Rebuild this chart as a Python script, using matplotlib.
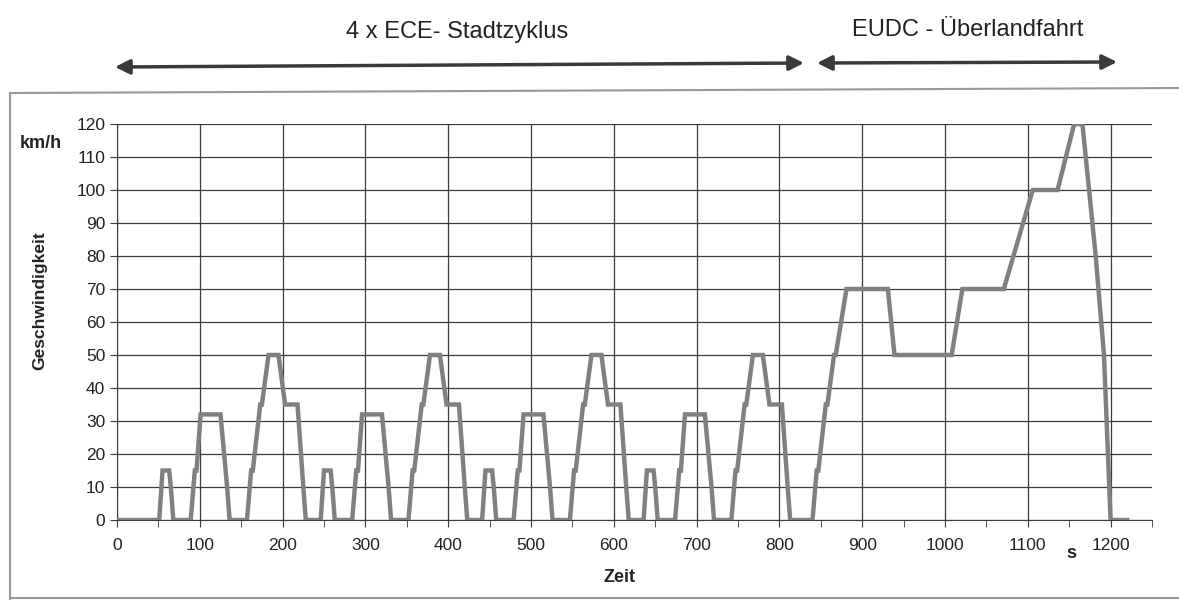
import matplotlib
matplotlib.use("Agg")
import matplotlib.pyplot as plt
from matplotlib.ticker import MultipleLocator
from matplotlib.lines import Line2D

plt.rcParams['font.family'] = ['Liberation Sans', 'DejaVu Sans']

# NEDC speed profile breakpoints (time in s, speed in km/h)
time_s = [0,
          51, 55, 63, 65, 68, 89, 94, 96, 101, 125, 133, 136, 157, 162, 164, 173, 175, 183, 195, 203, 218, 225, 228, 235,
          246, 250, 258, 260, 263, 284, 289, 291, 296, 320, 328, 331, 352, 357, 359, 368, 370, 378, 390, 398, 413, 420, 423, 430,
          441, 445, 453, 455, 458, 479, 484, 486, 491, 515, 523, 526, 547, 552, 554, 563, 565, 573, 585, 593, 608, 615, 618, 625,
          636, 640, 648, 650, 653, 674, 679, 681, 686, 710, 718, 721, 742, 747, 749, 758, 760, 768, 780, 788, 803, 810, 813, 820,
          840, 845, 847, 856, 858, 866, 868, 881, 931, 939, 1008, 1021, 1071, 1106, 1136, 1156, 1166, 1182, 1192, 1200, 1220]
speed_kmh = [0,
             0, 15, 15, 10, 0, 0, 15, 15, 32, 32, 10, 0, 0, 15, 15, 35, 35, 50, 50, 35, 35, 10, 0, 0,
             0, 15, 15, 10, 0, 0, 15, 15, 32, 32, 10, 0, 0, 15, 15, 35, 35, 50, 50, 35, 35, 10, 0, 0,
             0, 15, 15, 10, 0, 0, 15, 15, 32, 32, 10, 0, 0, 15, 15, 35, 35, 50, 50, 35, 35, 10, 0, 0,
             0, 15, 15, 10, 0, 0, 15, 15, 32, 32, 10, 0, 0, 15, 15, 35, 35, 50, 50, 35, 35, 10, 0, 0,
             0, 15, 15, 35, 35, 50, 50, 70, 70, 50, 50, 70, 70, 100, 100, 120, 120, 80, 50, 0, 0]

x_ticks = [0, 100, 200, 300, 400, 500, 600, 700, 800, 900, 1000, 1100, 1200]
y_ticks = [0, 10, 20, 30, 40, 50, 60, 70, 80, 90, 100, 110, 120]

W, H = 1179, 600
fig = plt.figure(figsize=(W / 100, H / 100), dpi=100)
ax = fig.add_axes([117 / W, 1 - 520 / H, (1152 - 117) / W, (520 - 124) / H])

ax.plot(time_s, speed_kmh, color='#808080', lw=3.2, solid_joinstyle='miter', zorder=3)

ax.set_xlim(0, 1250)
ax.set_ylim(0, 120)
ax.set_xticks(x_ticks)
ax.set_yticks(y_ticks)
ax.xaxis.set_minor_locator(MultipleLocator(50))
ax.grid(True, which='major', color='#3a3a3a', lw=0.9)
ax.set_axisbelow(True)
for s in ['top', 'right']:
    ax.spines[s].set_visible(False)
ax.spines['left'].set_color('#3a3a3a')
ax.spines['bottom'].set_color('#3a3a3a')
ax.tick_params(axis='both', which='major', labelsize=12.5, length=5, color='#3a3a3a', labelcolor='#222222')
ax.tick_params(axis='x', which='minor', length=5, color='#3a3a3a')
ax.tick_params(axis='x', pad=8)

txt = '#222222'
fig.text(20 / W, 1 - 143 / H, 'km/h', fontsize=13, fontweight='bold', ha='left', va='center', color=txt)
fig.text(40 / W, 1 - 301 / H, 'Geschwindigkeit', fontsize=12.5, fontweight='bold', rotation=90,
         ha='center', va='center', color=txt)
fig.text(619 / W, 1 - 578 / H, 'Zeit', fontsize=13, fontweight='bold', ha='center', va='center', color=txt)
fig.text(1071 / W, 1 - 553 / H, 's', fontsize=13, fontweight='bold', ha='center', va='center', color=txt)

fig.text(457 / W, 1 - 32 / H, '4 x ECE- Stadtzyklus', fontsize=17, ha='center', va='center', color=txt)
fig.text(968 / W, 1 - 30 / H, 'EUDC - Überlandfahrt', fontsize=17, ha='center', va='center', color=txt)

arrow_kw = dict(arrowstyle='<|-|>', color='#3a3a3a', lw=2.5, mutation_scale=22, shrinkA=0, shrinkB=0)
fig.add_artist(matplotlib.patches.FancyArrowPatch((115 / W, 1 - 67 / H), (804 / W, 1 - 63 / H),
                                                  transform=fig.transFigure, **arrow_kw))
fig.add_artist(matplotlib.patches.FancyArrowPatch((817 / W, 1 - 63 / H), (1117 / W, 1 - 62 / H),
                                                  transform=fig.transFigure, **arrow_kw))

frame_kw = dict(transform=fig.transFigure, color='#9a9a9a', lw=1.5)
fig.add_artist(Line2D([10 / W, 1], [1 - 93 / H, 1 - 88 / H], **frame_kw))
fig.add_artist(Line2D([10 / W, 10 / W], [1 - 93 / H, 0], **frame_kw))
fig.add_artist(Line2D([10 / W, 1], [1 - 598 / H, 1 - 598 / H], **frame_kw))

fig.savefig('out.png', dpi=100)
